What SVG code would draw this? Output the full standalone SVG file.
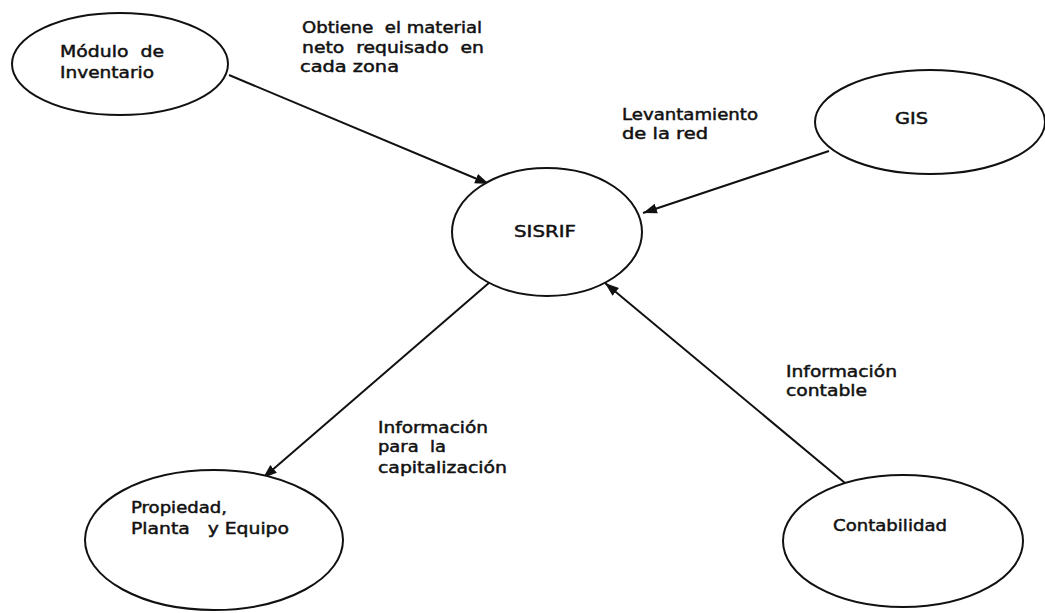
<svg xmlns="http://www.w3.org/2000/svg" width="1045" height="613" viewBox="0 0 1045 613">
<style>
.node ellipse{fill:#fff;stroke:#111;stroke-width:2}
text{font-family:"DejaVu Sans","Liberation Sans",sans-serif;font-size:15px;fill:#111;stroke:#111;stroke-width:0.45}
.conn line{stroke:#111;stroke-width:2}
</style>
<defs>
<marker id="arr" markerUnits="userSpaceOnUse" markerWidth="15" markerHeight="11" refX="14" refY="5.5" orient="auto">
<path d="M0,0.5 L14,5.5 L0,10.5 z" fill="#111"/>
</marker>
</defs>
<rect width="1045" height="613" fill="#fff"/>
<g id="connectors" class="conn">
<line x1="229" y1="75" x2="489" y2="184" marker-end="url(#arr)"/>
<line x1="829" y1="151" x2="643" y2="213" marker-end="url(#arr)"/>
<line x1="490" y1="282" x2="263" y2="478" marker-end="url(#arr)"/>
<line x1="845" y1="483" x2="605" y2="283" marker-end="url(#arr)"/>
</g>
<g id="modulo" class="node">
<ellipse cx="120" cy="64" rx="108" ry="51"/>
<text x="60" y="57" textLength="104" lengthAdjust="spacingAndGlyphs" xml:space="preserve">Módulo  de</text>
<text x="60" y="78" textLength="94" lengthAdjust="spacingAndGlyphs">Inventario</text>
</g>
<g id="gis" class="node">
<ellipse cx="930" cy="122" rx="115" ry="52"/>
<text x="895" y="124" textLength="33" lengthAdjust="spacingAndGlyphs">GIS</text>
</g>
<g id="sisrif" class="node">
<ellipse cx="547" cy="232" rx="95" ry="64"/>
<text x="514" y="237" textLength="62" lengthAdjust="spacingAndGlyphs">SISRIF</text>
</g>
<g id="propiedad" class="node">
<ellipse cx="214" cy="540" rx="129" ry="70"/>
<text x="131" y="513" textLength="96" lengthAdjust="spacingAndGlyphs">Propiedad,</text>
<text x="131" y="534" textLength="158" lengthAdjust="spacingAndGlyphs" xml:space="preserve">Planta   y Equipo</text>
</g>
<g id="contabilidad" class="node">
<ellipse cx="903" cy="541" rx="120" ry="66"/>
<text x="833" y="531" textLength="114" lengthAdjust="spacingAndGlyphs">Contabilidad</text>
</g>
<g id="labels">
<text x="302" y="33" textLength="180" lengthAdjust="spacingAndGlyphs" xml:space="preserve">Obtiene  el material</text>
<text x="302" y="53" textLength="182" lengthAdjust="spacingAndGlyphs" xml:space="preserve">neto  requisado  en</text>
<text x="300" y="72" textLength="99" lengthAdjust="spacingAndGlyphs">cada zona</text>
<text x="622" y="120" textLength="136" lengthAdjust="spacingAndGlyphs">Levantamiento</text>
<text x="622" y="139" textLength="86" lengthAdjust="spacingAndGlyphs">de la red</text>
<text x="378" y="433" textLength="110" lengthAdjust="spacingAndGlyphs">Información</text>
<text x="378" y="452" textLength="68" lengthAdjust="spacingAndGlyphs" xml:space="preserve">para  la</text>
<text x="378" y="473" textLength="129" lengthAdjust="spacingAndGlyphs">capitalización</text>
<text x="786" y="377" textLength="111" lengthAdjust="spacingAndGlyphs">Información</text>
<text x="786" y="396" textLength="81" lengthAdjust="spacingAndGlyphs">contable</text>
</g>
</svg>
